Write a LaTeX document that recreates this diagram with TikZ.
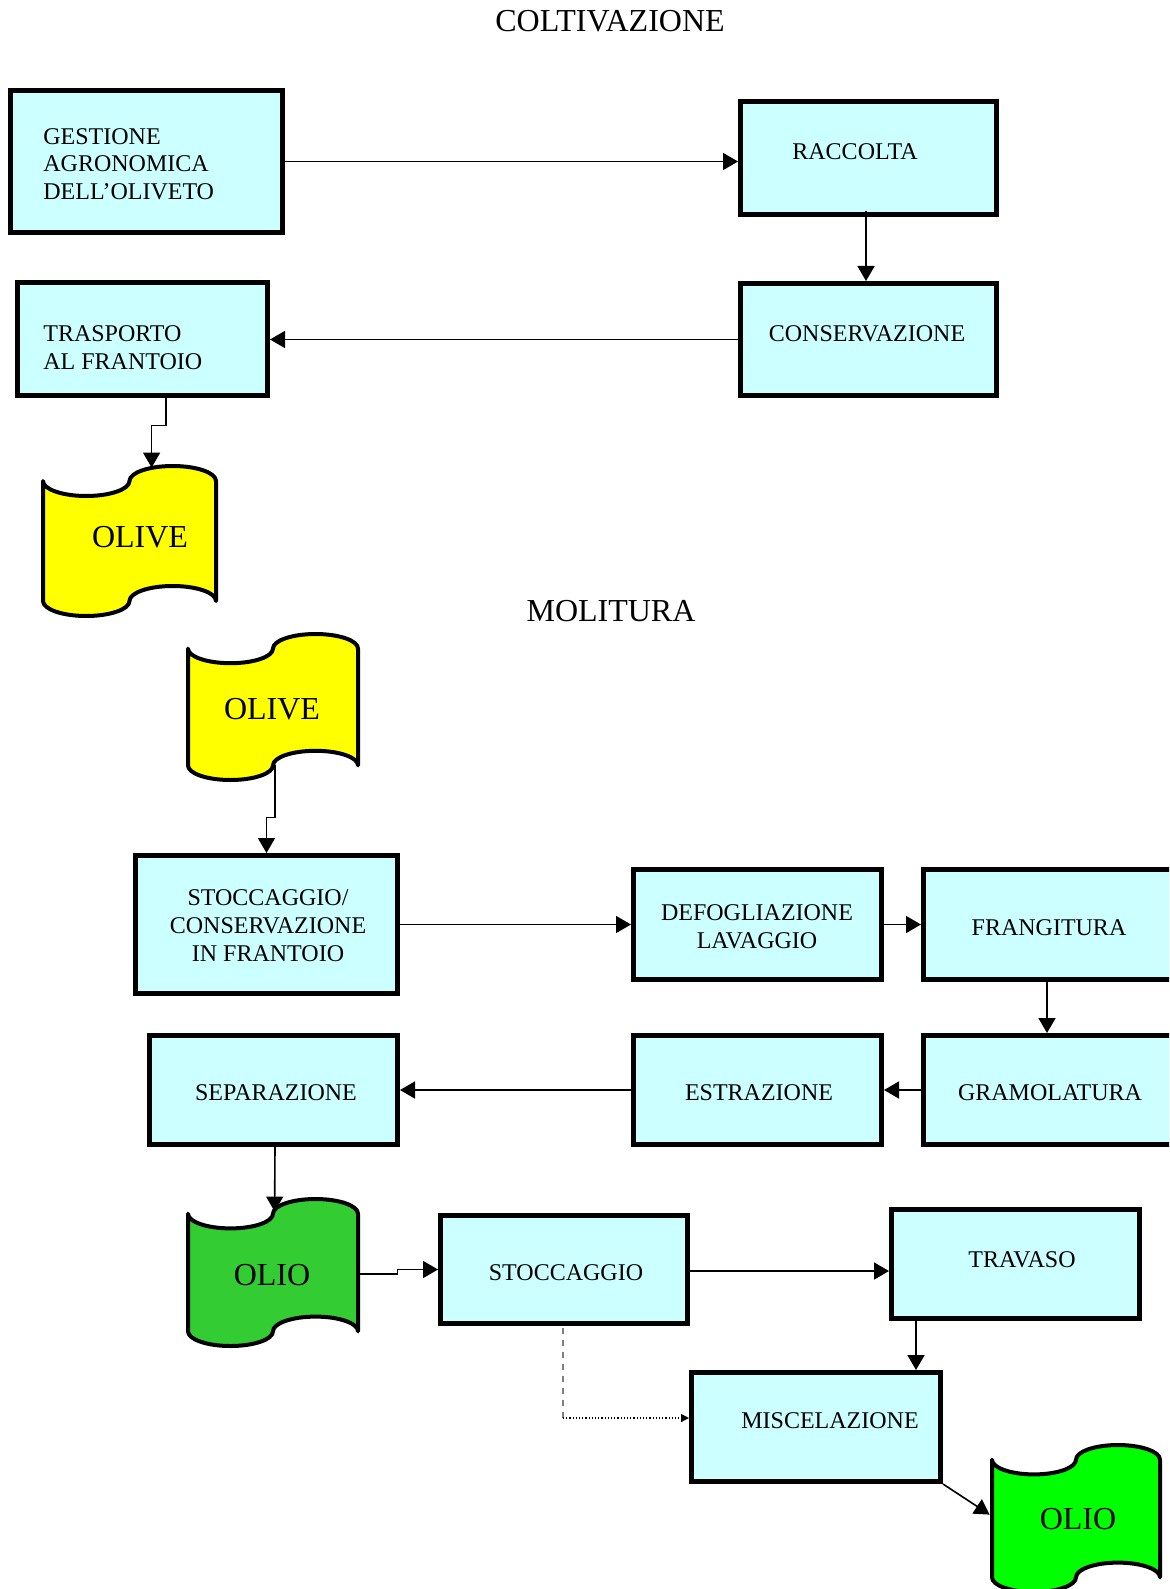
\documentclass[tikz,border=0pt]{standalone}
\usepackage{fontspec}
\setmainfont{Liberation Serif}
\usetikzlibrary{arrows.meta,calc}
\definecolor{boxfill}{HTML}{CCFFFF}
\definecolor{oliveyellow}{HTML}{FFFF00}
\definecolor{oliogreen}{HTML}{33CC33}
\definecolor{oliolime}{HTML}{00FF00}
\newcommand\myflag[5]{%
  \begin{scope}[shift={(#1,#2)},xscale=#3,yscale=#4]
    \draw[flagline,fill=#5] (0,0.1) .. controls (0,0.1552) and (0.1119,0.2) .. (0.25,0.2)
      .. controls (0.3881,0.2) and (0.5,0.1552) .. (0.5,0.1)
      .. controls (0.5,0.0448) and (0.6119,0) .. (0.75,0)
      .. controls (0.8881,0) and (1,0.0448) .. (1,0.1)
      -- (1,0.9)
      .. controls (1,0.8448) and (0.8881,0.8) .. (0.75,0.8)
      .. controls (0.6119,0.8) and (0.5,0.8448) .. (0.5,0.9)
      .. controls (0.5,0.9552) and (0.3881,1) .. (0.25,1)
      .. controls (0.1119,1) and (0,0.9552) .. (0,0.9) -- cycle;
  \end{scope}}
\tikzset{
  box/.style={draw, line width=2.5pt, fill=boxfill, inner sep=0pt},
  boxtxt/.style={font=\fontsize{12}{14}\selectfont, inner sep=0pt, align=center},
  boxtxtl/.style={font=\fontsize{12}{14}\selectfont, inner sep=0pt, align=left},
  big/.style={font=\fontsize{16}{19}\selectfont, inner sep=0pt},
  conn/.style={line width=0.8pt, -{Triangle[length=7.5pt,width=8.5pt]}},
  flagline/.style={line width=2pt, line join=round},
  region/.style={inner sep=0pt, draw=none}
}
\begin{document}
\begin{tikzpicture}[x=0.5pt,y=-0.5pt]
\useasboundingbox (0,0) rectangle (1169,1589);
\clip (0,0) rectangle (1169,1589);
\fill[white] (0,0) rectangle (1169,1589);

% titles
\node[big, anchor=base] (t1) at (610,32) {COLTIVAZIONE};
\node[big, anchor=base] (t2) at (611,621) {MOLITURA};

% flags
\myflag{43}{466}{173}{150}{oliveyellow}
\node[region, minimum width=86.5pt, minimum height=75pt] (olive1) at (129.5,541) {};
\node[big, anchor=base] (olive1T) at (140,547) {OLIVE};

\myflag{188}{634}{170}{146}{oliveyellow}
\node[region, minimum width=85pt, minimum height=73pt] (olive2) at (273,707) {};
\node[big, anchor=base] (olive2T) at (272,719) {OLIVE};

\myflag{188}{1199}{170}{147}{oliogreen}
\node[region, minimum width=85pt, minimum height=73.5pt] (olio1) at (273,1272.5) {};
\node[big, anchor=base] (olio1T) at (272,1285) {OLIO};

\myflag{992}{1445}{168}{147}{oliolime}
\node[region, minimum width=84pt, minimum height=73.5pt] (olio2) at (1076,1518.5) {};
\node[big, anchor=base] (olio2T) at (1078,1529) {OLIO};

% boxes
\node[box, minimum width=136pt, minimum height=71pt] (gest) at (146.5,161.5) {};
\node[box, minimum width=128pt, minimum height=56.5pt] (racc) at (868.5,158) {};
\node[box, minimum width=128pt, minimum height=56pt] (cons) at (868.5,339.5) {};
\node[box, minimum width=125pt, minimum height=56.5pt] (trasp) at (142.5,339) {};
\node[box, minimum width=131pt, minimum height=69pt] (stoc1) at (266.5,924.5) {};
\node[box, minimum width=124pt, minimum height=55pt] (defog) at (757.5,924.5) {};
\node[box, minimum width=132pt, minimum height=55pt] (frang) at (1055.5,924.5) {};
\node[box, minimum width=132pt, minimum height=54.5pt] (gram) at (1055.5,1090) {};
\node[box, minimum width=124pt, minimum height=54.5pt] (estr) at (757.5,1090) {};
\node[box, minimum width=124pt, minimum height=54.5pt] (sep) at (273.5,1090) {};
\node[box, minimum width=123.5pt, minimum height=54pt] (stoc2) at (564,1269.5) {};
\node[box, minimum width=124pt, minimum height=54.5pt] (trav) at (1015.5,1264) {};
\node[box, minimum width=124.5pt, minimum height=54.5pt] (misc) at (816,1427) {};

% box texts (base anchor = last line baseline)
\node[boxtxtl, anchor=base west] (gestT) at (43,200) {GESTIONE\\AGRONOMICA\\DELL’OLIVETO};
\node[boxtxt, anchor=base] (raccT) at (855,160) {RACCOLTA};
\node[boxtxt, anchor=base] (consT) at (867,341) {CONSERVAZIONE};
\node[boxtxtl, anchor=base west] (traspT) at (43,369) {TRASPORTO\\AL FRANTOIO};
\node[boxtxt, anchor=base] (stoc1T) at (268,961) {STOCCAGGIO/\\CONSERVAZIONE\\IN FRANTOIO};
\node[boxtxt, anchor=base] (defogT) at (757,948) {DEFOGLIAZIONE\\LAVAGGIO};
\node[boxtxt, anchor=base] (frangT) at (1049,935) {FRANGITURA};
\node[boxtxt, anchor=base] (gramT) at (1050,1100) {GRAMOLATURA};
\node[boxtxt, anchor=base] (estrT) at (759,1100) {ESTRAZIONE};
\node[boxtxt, anchor=base] (sepT) at (276,1100) {SEPARAZIONE};
\node[boxtxt, anchor=base] (stoc2T) at (566,1280) {STOCCAGGIO};
\node[boxtxt, anchor=base] (travT) at (1022,1267) {TRAVASO};
\node[boxtxt, anchor=base] (miscT) at (830,1428) {MISCELAZIONE};

% connectors
\draw[conn] (gest.east) -- (gest.east -| racc.west);
\draw[conn] ($(racc.south)+(-2.5,-6)$) -- ($(cons.north)+(-2.5,0)$);
\draw[conn] (cons.west) -- (cons.west -| trasp.east);
\draw[conn] ($(trasp.south)+(23.5,0)$) -- ++(0,27.5) -| ($(olive1.north west)+(109,2)$);
\draw[conn] ($(olive2.south)+(2,-15)$) -- ++(0,52) -| (stoc1.north);
\draw[conn] (stoc1.east) -- (stoc1.east -| defog.west);
\draw[conn] (defog.east) -- (frang.west);
\draw[conn] ($(frang.south)+(-8.5,0)$) -- ($(gram.north)+(-8.5,0)$);
\draw[conn] (gram.west) -- (estr.east);
\draw[conn] (estr.west) -- (sep.east);
\draw[conn] ($(sep.south)+(1.5,0)$) -- ($(olio1.north west)+(87,13)$);
\draw[conn] ($(olio1.east)+(0,1.5)$) -- ++(39,0) |- (stoc2.west);
\draw[conn] ($(stoc2.east)+(0,1.5)$) -- ($(stoc2.east -| trav.west)+(0,1.5)$);
\draw[conn] ($(trav.south)+(-99.5,-4)$) -- ($(misc.north)+(100,0)$);
\coordinate (dcorner) at ($(stoc2.south |- misc.west)+(-1,-9)$);
\draw[dashed, gray, line width=0.6pt] ($(stoc2.south)+(-1,2)$) -- (dcorner);
\draw[densely dotted, line width=0.6pt, -{Triangle[length=4pt,width=4pt]}] (dcorner) -- ($(misc.west)+(0,-9)$);
\draw[conn] (misc.south east) -- ($(olio2.north west)+(-2,70)$);
\end{tikzpicture}
\end{document}
